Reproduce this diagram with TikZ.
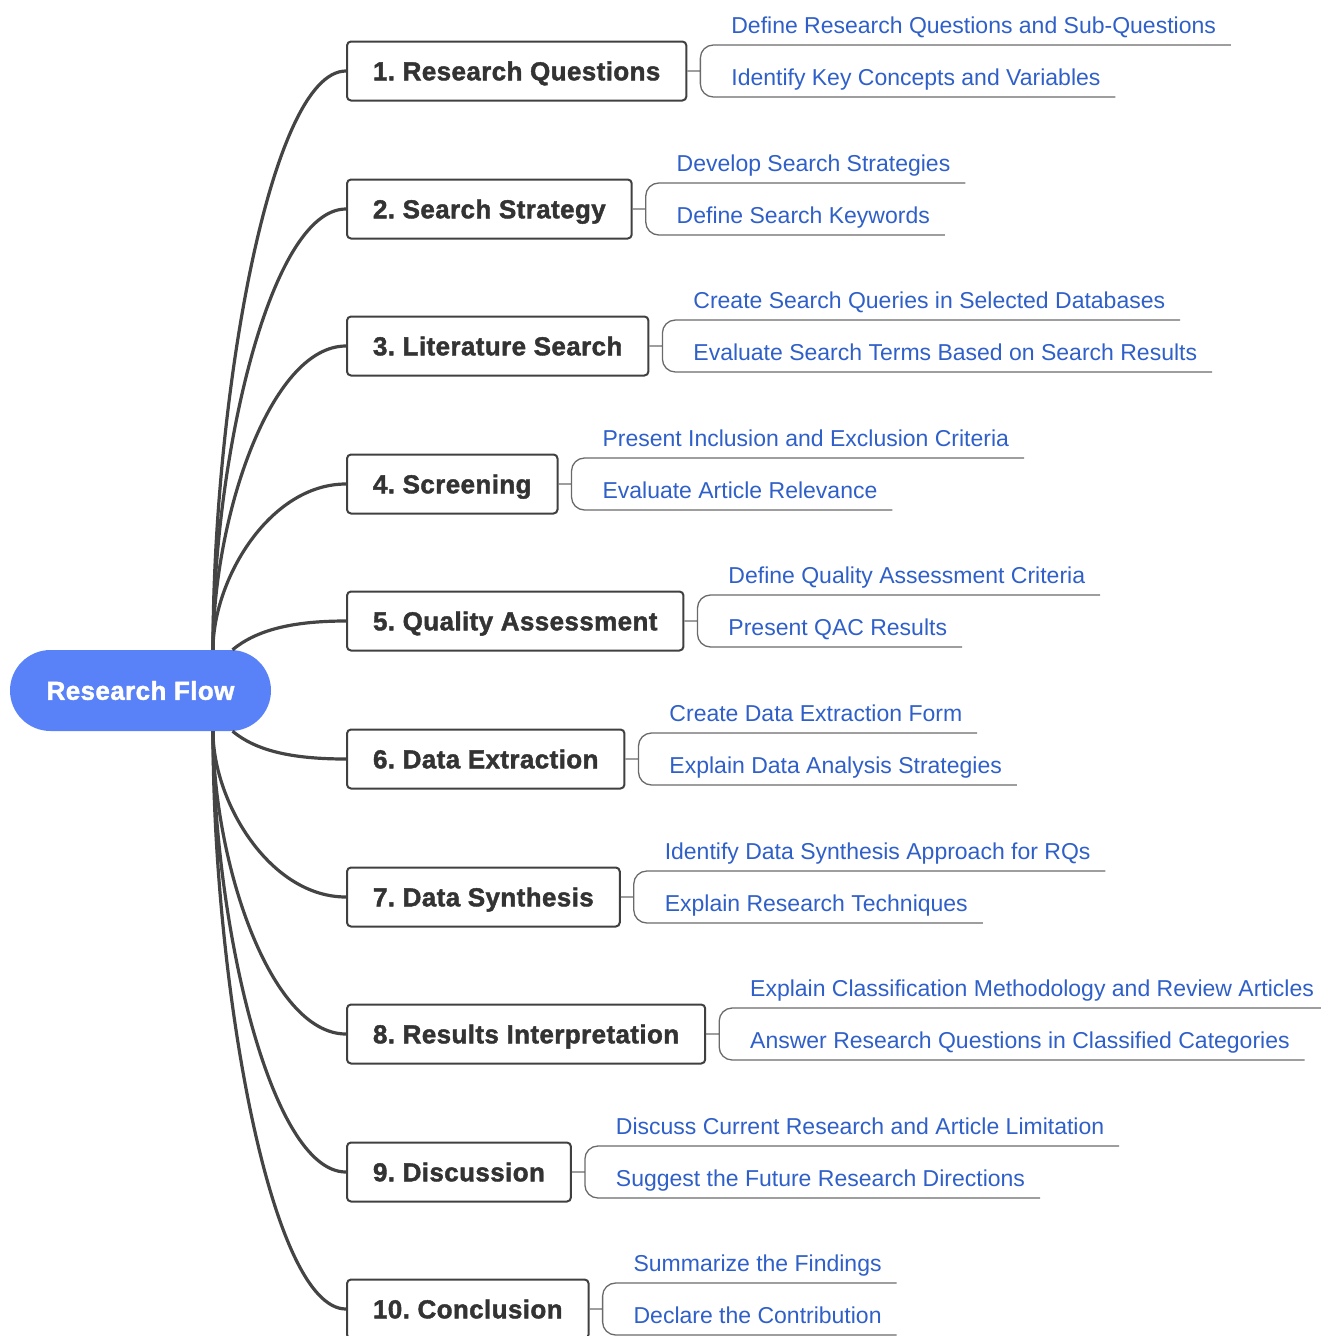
\documentclass[tikz,border=0pt]{standalone}
\usepackage{fontspec}
\setmainfont{Liberation Sans}[BoldFeatures={FakeBold=1.6,LetterSpace=1.5}]
\usepackage{tikz}
\definecolor{flowblue}{HTML}{5A82F8}
\definecolor{leafblue}{HTML}{2F5FC8}
\definecolor{linegray}{HTML}{444444}
\definecolor{boxgray}{HTML}{404040}
\definecolor{bracegray}{HTML}{6A6A6A}
\frenchspacing

\begin{document}
\begin{tikzpicture}[x=1pt,y=-1pt,
    rootnode/.style={fill=flowblue,text=white,rounded corners=40.5,minimum width=261,minimum height=81,
      text height=18.6,text depth=0,font=\fontsize{26}{30}\selectfont\bfseries},
    branch/.style={draw=boxgray,line width=2,rounded corners=4,fill=white,anchor=west,inner xsep=26,
      minimum height=59,text height=18.6,text depth=0,text=black!80,font=\fontsize{26}{30}\selectfont\bfseries},
    leaf/.style={anchor=south west,text=leafblue,inner xsep=15,inner ysep=7,text depth=5,outer sep=0,
      font=\fontsize{23}{27}\selectfont},
    link/.style={draw=linegray,line width=3.2},
    brace/.style={draw=bracegray,line width=1.3,rounded corners=13}]
  \useasboundingbox (0,0) rectangle (1320,1336);

  \node[rootnode](root) at (140.5,690.5) {Research Flow};

  \node[branch](b1) at (346,71) {1. Research Questions};
  \node[branch](b2) at (346,209) {2. Search Strategy};
  \node[branch](b3) at (346,346) {3. Literature Search};
  \node[branch](b4) at (346,484) {4. Screening};
  \node[branch](b5) at (346,621) {5. Quality Assessment};
  \node[branch](b6) at (346,759) {6. Data Extraction};
  \node[branch](b7) at (346,897) {7. Data Synthesis};
  \node[branch](b8) at (346,1034) {8. Results Interpretation};
  \node[branch](b9) at (346,1172) {9. Discussion};
  \node[branch](b10) at (346,1309) {10. Conclusion};

  \draw[link] ([xshift=72.5]root.north) .. controls +(0,-249) and +(-76,0) .. (b1.west);
  \draw[link] ([xshift=72.5]root.north) .. controls +(0,-190) and +(-76,0) .. (b2.west);
  \draw[link] ([xshift=72.5]root.north) .. controls +(0,-131) and +(-76,0) .. (b3.west);
  \draw[link] ([xshift=72.5]root.north) .. controls +(0,-71) and +(-76,0) .. (b4.west);
  \draw[link] ([xshift=92]root.north) .. controls +(23,-19) and +(-56,0) .. (b5.west);
  \draw[link] ([xshift=92]root.south) .. controls +(23,19) and +(-56,0) .. (b6.west);
  \draw[link] ([xshift=72.5]root.south) .. controls +(0,71) and +(-76,0) .. (b7.west);
  \draw[link] ([xshift=72.5]root.south) .. controls +(0,130) and +(-76,0) .. (b8.west);
  \draw[link] ([xshift=72.5]root.south) .. controls +(0,189) and +(-76,0) .. (b9.west);
  \draw[link] ([xshift=72.5]root.south) .. controls +(0,249) and +(-76,0) .. (b10.west);

  \node[leaf](l1a) at ([shift={(29,-26)}]b1.east) {Define Research Questions and Sub-Questions};
  \node[leaf](l1b) at ([shift={(29,26)}]b1.east) {Identify Key Concepts and Variables};
  \node[leaf](l2a) at ([shift={(29,-26)}]b2.east) {Develop Search Strategies};
  \node[leaf](l2b) at ([shift={(29,26)}]b2.east) {Define Search Keywords};
  \node[leaf](l3a) at ([shift={(29,-26)}]b3.east) {Create Search Queries in Selected Databases};
  \node[leaf](l3b) at ([shift={(29,26)}]b3.east) {Evaluate Search Terms Based on Search Results};
  \node[leaf](l4a) at ([shift={(29,-26)}]b4.east) {Present Inclusion and Exclusion Criteria};
  \node[leaf](l4b) at ([shift={(29,26)}]b4.east) {Evaluate Article Relevance};
  \node[leaf](l5a) at ([shift={(29,-26)}]b5.east) {Define Quality Assessment Criteria};
  \node[leaf](l5b) at ([shift={(29,26)}]b5.east) {Present QAC Results};
  \node[leaf](l6a) at ([shift={(29,-26)}]b6.east) {Create Data Extraction Form};
  \node[leaf](l6b) at ([shift={(29,26)}]b6.east) {Explain Data Analysis Strategies};
  \node[leaf](l7a) at ([shift={(29,-26)}]b7.east) {Identify Data Synthesis Approach for RQs};
  \node[leaf](l7b) at ([shift={(29,26)}]b7.east) {Explain Research Techniques};
  \node[leaf](l8a) at ([shift={(29,-26)}]b8.east) {Explain Classification Methodology and Review Articles};
  \node[leaf](l8b) at ([shift={(29,26)}]b8.east) {Answer Research Questions in Classified Categories};
  \node[leaf](l9a) at ([shift={(29,-26)}]b9.east) {Discuss Current Research and Article Limitation};
  \node[leaf](l9b) at ([shift={(29,26)}]b9.east) {Suggest the Future Research Directions};
  \node[leaf](l10a) at ([shift={(29,-26)}]b10.east) {Summarize the Findings};
  \node[leaf](l10b) at ([shift={(29,26)}]b10.east) {Declare the Contribution};

  \draw[brace] (b1.east) -- ++(13,0) (l1a.south east) -| ([xshift=13]b1.east) |- (l1b.south east);
  \draw[brace] (b2.east) -- ++(13,0) (l2a.south east) -| ([xshift=13]b2.east) |- (l2b.south east);
  \draw[brace] (b3.east) -- ++(13,0) (l3a.south east) -| ([xshift=13]b3.east) |- (l3b.south east);
  \draw[brace] (b4.east) -- ++(13,0) (l4a.south east) -| ([xshift=13]b4.east) |- (l4b.south east);
  \draw[brace] (b5.east) -- ++(13,0) (l5a.south east) -| ([xshift=13]b5.east) |- (l5b.south east);
  \draw[brace] (b6.east) -- ++(13,0) (l6a.south east) -| ([xshift=13]b6.east) |- (l6b.south east);
  \draw[brace] (b7.east) -- ++(13,0) (l7a.south east) -| ([xshift=13]b7.east) |- (l7b.south east);
  \draw[brace] (b8.east) -- ++(13,0) (l8a.south east) -| ([xshift=13]b8.east) |- (l8b.south east);
  \draw[brace] (b9.east) -- ++(13,0) (l9a.south east) -| ([xshift=13]b9.east) |- (l9b.south east);
  \draw[brace] (b10.east) -- ++(13,0) (l10a.south east) -| ([xshift=13]b10.east) |- (l10b.south east);
\end{tikzpicture}
\end{document}
